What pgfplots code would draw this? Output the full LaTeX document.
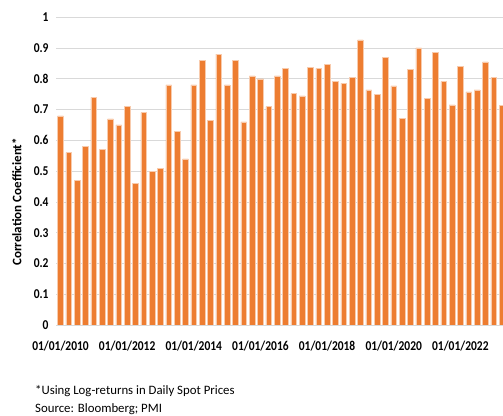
\documentclass[border=0pt]{standalone}
\usepackage{fontspec}
\setmainfont{Carlito}
\newfontfamily\condfont[FakeStretch=0.85]{Carlito}
\usepackage{pgfplots}
\pgfplotsset{compat=1.18}
\definecolor{barorange}{HTML}{ED7D31}
\definecolor{gridgray}{HTML}{D9D9D9}
\begin{document}
\begin{tikzpicture}[x=1pt,y=1pt]
\useasboundingbox (0,0) rectangle (503,415);
\begin{axis}[
  at={(56pt,90pt)}, anchor=south west,
  scale only axis, width=447pt, height=307.7pt,
  xmin=-0.54, xmax=53.12, ymin=0, ymax=1,
  enlargelimits=false,
  axis y line*=left,
  axis x line*=bottom,
  y axis line style={draw=none},
  x axis line style={gridgray, line width=0.8pt, -},
  ymajorgrids, grid style={gridgray, line width=0.8pt},
  ytick={0,0.1,...,1.0},
  yticklabels={0,0.1,0.2,0.3,0.4,0.5,0.6,0.7,0.8,0.9,1},
  xtick={0,8,16,24,32,40,48},
  xticklabels={01/01/2010,01/01/2012,01/01/2014,01/01/2016,01/01/2018,01/01/2020,01/01/2022},
  major tick length=0pt,
  /pgf/number format/assume math mode=true,
  yticklabel style={font=\condfont\fontsize{13.5}{15}\selectfont\bfseries, xshift=-4pt},
  xticklabel style={font=\condfont\fontsize{13.5}{15}\selectfont\bfseries, yshift=-12pt},
  ylabel={Correlation Coefficient*},
  ylabel style={font=\fontsize{13}{15}\selectfont\bfseries, at={(axis description cs:-0.088,0.40)}, anchor=center},
  clip=true,
]
\addplot[ybar, bar width=0.68, fill=barorange, draw=barorange!40, line width=0.4pt] coordinates {
(0,0.68) (1,0.56) (2,0.47) (3,0.58) (4,0.74) (5,0.57) (6,0.67) (7,0.65)
(8,0.71) (9,0.46) (10,0.69) (11,0.50) (12,0.51) (13,0.78) (14,0.63) (15,0.54)
(16,0.78) (17,0.86) (18,0.665) (19,0.88) (20,0.78) (21,0.86) (22,0.66) (23,0.81)
(24,0.80) (25,0.71) (26,0.81) (27,0.833) (28,0.752) (29,0.745) (30,0.837) (31,0.834)
(32,0.847) (33,0.792) (34,0.785) (35,0.804) (36,0.927) (37,0.764) (38,0.749) (39,0.87)
(40,0.777) (41,0.672) (42,0.831) (43,0.901) (44,0.737) (45,0.886) (46,0.791) (47,0.715)
(48,0.84) (49,0.758) (50,0.764) (51,0.855) (52,0.804) (53,0.713)
};
\end{axis}
\node[anchor=west, inner sep=0pt, font=\fontsize{12.8}{15}\selectfont] at (35,24) {*Using Log-returns in Daily Spot Prices};
\node[anchor=west, inner sep=0pt, font=\fontsize{12.8}{15}\selectfont] at (35,6) {Source: Bloomberg; PMI};
\end{tikzpicture}
\end{document}
